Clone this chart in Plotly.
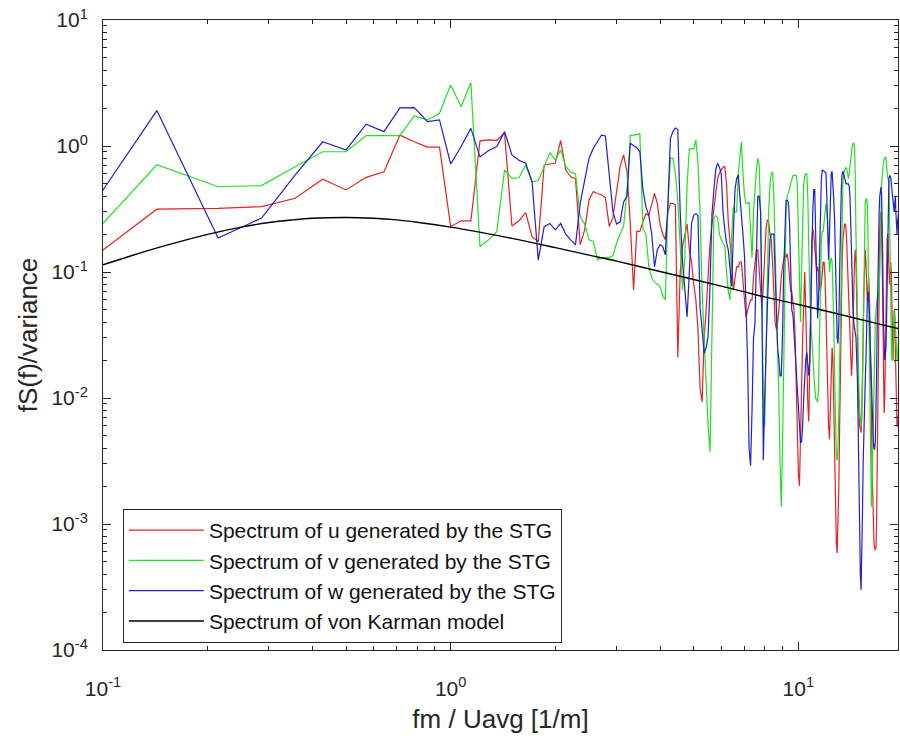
import plotly.graph_objects as go

# frequency resolution of the spectra (1/m)
df = 1.0 / 14.0

# Spectrum of u (red), one value per frequency bin k*df, k = 1..272
spec_u = [
    0.074, 0.315, 0.32, 0.33, 0.385, 0.544, 0.448, 0.564, 0.625, 1.22,
    1.08, 0.98, 0.98, 0.229, 0.255, 0.255, 1.10, 1.12, 1.11, 1.27,
    0.232, 0.255, 0.296, 0.191, 0.174, 0.707, 0.72, 0.73, 1.11, 0.645,
    0.57, 0.55, 0.164, 0.216, 0.373, 0.435, 0.42, 0.41, 0.39, 0.23,
    0.27, 0.45, 0.69, 0.85, 0.63, 0.24, 0.072, 0.21, 0.21, 0.25,
    0.29, 0.28, 0.35, 0.42, 0.35, 0.24, 0.2, 0.18, 0.3, 0.35,
    0.35, 0.34, 0.021, 0.1, 0.16, 0.2, 0.24, 0.15, 0.12, 0.08,
    0.06, 0.035, 0.012, 0.0093, 0.03, 0.05, 0.1, 0.17, 0.24, 0.33,
    0.45, 0.55, 0.61, 0.64, 0.68, 0.685, 0.5, 0.25, 0.18, 0.12,
    0.072, 0.09, 0.11, 0.11, 0.12, 0.12, 0.09, 0.06, 0.044, 0.05,
    0.055, 0.06, 0.06, 0.09, 0.12, 0.15, 0.15, 0.1, 0.06, 0.05,
    0.08, 0.15, 0.22, 0.26, 0.25, 0.2, 0.18, 0.12, 0.06, 0.04,
    0.035, 0.04, 0.05, 0.07, 0.09, 0.11, 0.13, 0.14, 0.13, 0.14,
    0.12, 0.09, 0.07, 0.07, 0.06, 0.05, 0.03, 0.012, 0.005, 0.0025,
    0.002, 0.004, 0.012, 0.03, 0.06, 0.1, 0.05, 0.02, 0.009, 0.0065,
    0.02, 0.08, 0.18, 0.22, 0.2, 0.16, 0.12, 0.1, 0.11, 0.1,
    0.08, 0.07, 0.08, 0.1, 0.12, 0.12, 0.09, 0.05, 0.025, 0.01,
    0.006, 0.0047, 0.008, 0.015, 0.025, 0.02, 0.008, 0.003, 0.0012, 0.0007,
    0.00059, 0.0009, 0.002, 0.006, 0.02, 0.06, 0.12, 0.18, 0.22, 0.24,
    0.24, 0.22, 0.16, 0.1, 0.07, 0.05, 0.03, 0.018, 0.015, 0.02,
    0.04, 0.08, 0.12, 0.15, 0.12, 0.06, 0.025, 0.012, 0.008, 0.006,
    0.0055, 0.0053, 0.007, 0.012, 0.03, 0.07, 0.12, 0.15, 0.12, 0.08,
    0.06, 0.07, 0.09, 0.07, 0.04, 0.02, 0.008, 0.003, 0.0015, 0.0009,
    0.0007, 0.00065, 0.00062, 0.00065, 0.001, 0.003, 0.01, 0.04, 0.1, 0.2,
    0.28, 0.3, 0.25, 0.12, 0.05, 0.015, 0.0076, 0.01, 0.025, 0.06,
    0.12, 0.18, 0.2, 0.15, 0.1, 0.08, 0.09, 0.12, 0.1, 0.06,
    0.03, 0.02, 0.03, 0.05, 0.04, 0.02, 0.01, 0.007, 0.006, 0.006,
    0.007, 0.008,
]

# Spectrum of v (green)
spec_v = [
    0.0885, 0.71, 0.475, 0.485, 0.685, 0.90, 0.90, 1.21, 1.21, 1.21,
    1.73, 1.61, 1.82, 3.05, 2.05, 3.18, 0.159, 0.18, 0.21, 0.645,
    0.553, 0.56, 0.707, 0.52, 0.53, 0.69, 0.885, 0.77, 0.93, 0.69,
    0.62, 0.6, 0.275, 0.24, 0.18, 0.175, 0.125, 0.13, 0.13, 0.13,
    0.135, 0.17, 0.2, 0.23, 0.45, 1.22, 1.22, 1.23, 1.25, 0.22,
    0.2, 0.11, 0.09, 0.083, 0.08, 0.077, 0.065, 0.06, 0.33, 0.8,
    0.8, 0.6, 0.37, 0.15, 0.072, 0.13, 0.5, 0.95, 0.95, 0.95,
    1.12, 0.73, 0.3, 0.072, 0.03, 0.012, 0.006, 0.00375, 0.05, 0.27,
    0.28, 0.27, 0.2, 0.18, 0.17, 0.16, 0.1, 0.07, 0.06, 0.2,
    0.33, 0.3, 0.3, 0.6, 0.82, 1.08, 0.6, 0.4, 0.35, 0.35,
    0.36, 0.2, 0.13, 0.3, 0.5, 0.64, 0.8, 0.7, 0.3, 0.05,
    0.01, 0.006, 0.02, 0.1, 0.3, 0.5, 0.6, 0.625, 0.4, 0.15,
    0.06, 0.039, 0.01, 0.003, 0.00137, 0.004, 0.02, 0.1, 0.3, 0.4,
    0.42, 0.45, 0.5, 0.55, 0.58, 0.59, 0.58, 0.59, 0.5, 0.2,
    0.06, 0.04, 0.1, 0.3, 0.5, 0.58, 0.6, 0.6, 0.4, 0.15,
    0.07, 0.04, 0.03, 0.02, 0.015, 0.012, 0.01, 0.0095, 0.0093, 0.012,
    0.03, 0.1, 0.18, 0.21, 0.21, 0.25, 0.3, 0.35, 0.3, 0.25,
    0.15, 0.1, 0.12, 0.13, 0.12, 0.08, 0.04, 0.015, 0.006, 0.0035,
    0.0032, 0.004, 0.008, 0.02, 0.06, 0.15, 0.3, 0.5, 0.6, 0.65,
    0.67, 0.67, 0.65, 0.6, 0.55, 0.6, 0.7, 0.8, 0.9, 1.0,
    1.05, 1.05, 1.0, 0.6, 0.2, 0.08, 0.04, 0.02, 0.012, 0.008,
    0.006, 0.006, 0.008, 0.012, 0.03, 0.1, 0.25, 0.36, 0.38, 0.38,
    0.35, 0.2, 0.06, 0.02, 0.006, 0.002, 0.00137, 0.002, 0.004, 0.008,
    0.015, 0.03, 0.04, 0.05, 0.06, 0.07, 0.07, 0.06, 0.07, 0.1,
    0.2, 0.35, 0.5, 0.6, 0.7, 0.75, 0.77, 0.8, 0.82, 0.8,
    0.7, 0.6, 0.55, 0.55, 0.5, 0.3, 0.1, 0.05, 0.03, 0.02,
    0.02, 0.025, 0.03, 0.039, 0.05, 0.04, 0.03, 0.025, 0.02, 0.02,
    0.025, 0.03,
]

# Spectrum of w (blue)
spec_w = [
    0.114, 1.91, 0.186, 0.268, 0.59, 1.08, 0.93, 1.49, 1.30, 2.01,
    2.02, 1.56, 1.61, 0.72, 0.99, 1.38, 0.82, 0.92, 0.99, 1.30,
    0.85, 0.77, 0.73, 0.52, 0.124, 0.229, 0.243, 0.216, 0.243, 0.2,
    0.18, 0.164, 0.35, 0.55, 0.8, 0.96, 1.08, 1.22, 1.2, 0.6,
    0.3, 0.24, 0.25, 0.36, 0.4, 1.05, 1.0, 0.97, 0.9, 0.45,
    0.33, 0.28, 0.2, 0.11, 0.15, 0.165, 0.16, 0.137, 0.35, 1.15,
    1.3, 1.39, 1.35, 0.3, 0.12, 0.07, 0.044, 0.1, 0.243, 0.283,
    0.29, 0.28, 0.053, 0.035, 0.0226, 0.025, 0.031, 0.08, 0.29, 0.45,
    0.65, 0.73, 0.68, 0.6, 0.3, 0.215, 0.17, 0.15, 0.1, 0.077,
    0.2, 0.45, 0.55, 0.59, 0.4, 0.3, 0.2, 0.132, 0.06, 0.02,
    0.004, 0.0029, 0.008, 0.03, 0.039, 0.15, 0.4, 0.4, 0.3, 0.05,
    0.0032, 0.01, 0.03, 0.053, 0.1, 0.18, 0.2, 0.2, 0.2, 0.1,
    0.04, 0.025, 0.02, 0.015, 0.015, 0.03, 0.1, 0.25, 0.37, 0.37,
    0.36, 0.25, 0.1, 0.05, 0.046, 0.03, 0.02, 0.017, 0.012, 0.008,
    0.005, 0.0044, 0.0045, 0.006, 0.01, 0.015, 0.02, 0.023, 0.018, 0.015,
    0.02, 0.06, 0.15, 0.3, 0.45, 0.45, 0.2, 0.08, 0.043, 0.06,
    0.15, 0.35, 0.55, 0.645, 0.64, 0.63, 0.62, 0.61, 0.4, 0.2,
    0.125, 0.2, 0.45, 0.6, 0.63, 0.5, 0.37, 0.25, 0.12, 0.05,
    0.03, 0.027, 0.04, 0.1, 0.25, 0.45, 0.6, 0.63, 0.6, 0.55,
    0.52, 0.5, 0.5, 0.5, 0.5, 0.48, 0.4, 0.25, 0.12, 0.072,
    0.05, 0.04, 0.035, 0.03, 0.03, 0.02, 0.014, 0.006, 0.002, 0.0008,
    0.0004, 0.0003, 0.0005, 0.0012, 0.003, 0.006, 0.01, 0.014, 0.02, 0.04,
    0.06, 0.07, 0.06, 0.05, 0.03, 0.02, 0.012, 0.008, 0.006, 0.0045,
    0.004, 0.0039, 0.0045, 0.007, 0.015, 0.04, 0.1, 0.2, 0.3, 0.4,
    0.46, 0.475, 0.4, 0.25, 0.1, 0.04, 0.025, 0.02, 0.022, 0.025,
    0.04, 0.08, 0.2, 0.4, 0.55, 0.58, 0.58, 0.56, 0.5, 0.45,
    0.4, 0.35, 0.3, 0.3, 0.35, 0.4, 0.3, 0.2, 0.2, 0.25,
    0.3, 0.3,
]

# von Karman model curve
karman_f = [0.1, 0.12, 0.15, 0.2, 0.25, 0.3, 0.35, 0.4, 0.5, 0.6, 0.7, 0.8,
            1.0, 1.2, 1.5, 2.0, 2.5, 3.0, 4.0, 5.0, 6.0, 7.0, 8.0, 10.0,
            12.0, 15.0, 17.0, 20.0]
karman_s = [0.114, 0.134, 0.161, 0.199, 0.227, 0.247, 0.259, 0.267, 0.271, 0.267,
            0.259, 0.248, 0.227, 0.208, 0.185, 0.156, 0.136, 0.122, 0.101, 0.0872,
            0.0772, 0.0695, 0.0634, 0.0552, 0.0490, 0.0422, 0.0388, 0.0348]

series_names = [
    "Spectrum of u generated by the STG",
    "Spectrum of v generated by the STG",
    "Spectrum of w generated by the STG",
    "Spectrum of von Karman model",
]
series_colors = ["#e42222", "#22e022", "#2020cc", "#000000"]

x_tick_vals = [0.1, 1, 10]
x_tick_text = ["10<sup>-1</sup>", "10<sup>0</sup>", "10<sup>1</sup>"]
y_tick_vals = [1e-4, 1e-3, 1e-2, 1e-1, 1, 10]
y_tick_text = ["10<sup>-4</sup>", "10<sup>-3</sup>", "10<sup>-2</sup>",
               "10<sup>-1</sup>", "10<sup>0</sup>", "10<sup>1</sup>"]

x_minor = [m * 10 ** e for e in (-1, 0, 1) for m in range(2, 10)]
y_minor = [m * 10 ** e for e in (-4, -3, -2, -1, 0) for m in range(2, 10)]

n = min(len(spec_u), len(spec_v), len(spec_w))
freq = [(k + 1) * df for k in range(n)]

FONT = "Liberation Sans, Arial, Helvetica, sans-serif"
AX = "#262626"

fig = go.Figure()
for name, vals, col in zip(series_names[:3], [spec_u, spec_v, spec_w], series_colors[:3]):
    fig.add_trace(go.Scatter(x=freq, y=vals[:n], mode="lines", name=name,
                             line=dict(color=col, width=1.2)))
fig.add_trace(go.Scatter(x=karman_f, y=karman_s, mode="lines", name=series_names[3],
                         line=dict(color=series_colors[3], width=1.4, shape="spline")))

common = dict(showline=True, linecolor=AX, linewidth=1, mirror="ticks",
              ticks="inside", ticklen=8, tickcolor=AX, tickwidth=1,
              showgrid=False, zeroline=False, automargin=False,
              tickfont=dict(family=FONT, size=21, color=AX))

fig.update_xaxes(type="log", range=[-1, 1.2865], tickmode="array",
                 tickvals=x_tick_vals, ticktext=x_tick_text,
                 minor=dict(tickmode="array", tickvals=x_minor, ticks="inside",
                            ticklen=4, tickcolor=AX, showgrid=False),
                 ticklabelstandoff=20,
                 title=dict(text="fm / Uavg [1/m]", font=dict(family=FONT, size=26, color=AX),
                            standoff=10),
                 **common)
fig.update_yaxes(type="log", range=[-4, 1], tickmode="array",
                 tickvals=y_tick_vals, ticktext=y_tick_text,
                 minor=dict(tickmode="array", tickvals=y_minor, ticks="inside",
                            ticklen=4, tickcolor=AX, showgrid=False),
                 ticklabelstandoff=10,
                 title=dict(text="fS(f)/variance", font=dict(family=FONT, size=26, color=AX),
                            standoff=6),
                 **common)

fig.update_layout(
    width=900, height=740, autosize=False,
    margin=dict(l=103, r=2, t=20, b=90),
    paper_bgcolor="white", plot_bgcolor="white",
    font=dict(family=FONT, color=AX),
    legend=dict(x=0.025, y=0.224, xanchor="left", yanchor="top",
                bgcolor="white", bordercolor=AX, borderwidth=1,
                font=dict(family=FONT, size=21, color="#111111"),
                itemwidth=75, tracegroupgap=0),
    showlegend=True,
)

fig.write_html(
    "out.html",
    config={"displayModeBar": False},
    post_script="document.body.style.margin='0px';document.body.style.overflow='hidden';",
)
